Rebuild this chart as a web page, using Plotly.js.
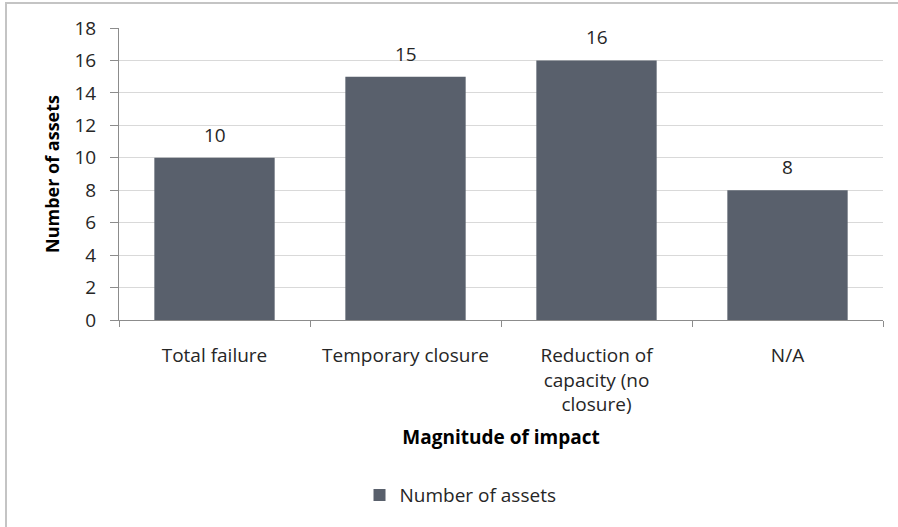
<!DOCTYPE html>
<html>
<head>
<meta charset="utf-8">
<script src="https://cdn.plot.ly/plotly-3.0.1.min.js"></script>
<style>
  html, body { margin: 0; padding: 0; background: #fff; }
  #chart { width: 898px; height: 527px; }
</style>
</head>
<body>
<div id="chart"></div>
<script>
const categories = ["Total failure", "Temporary closure", "Reduction of<br>capacity (no<br>closure)", "N/A"];
const values = [10, 15, 16, 8];
const seriesName = "Number of assets";
const yTicks = [0, 2, 4, 6, 8, 10, 12, 14, 16, 18];

const FONT = "Open Sans, Noto Sans, sans-serif";
const TXT = "#262626";

const trace = {
  type: "bar",
  x: categories,
  y: values,
  name: seriesName,
  marker: { color: "#59606c" },
  hoverinfo: "x+y"
};

const labelAnnotations = categories.map((c, i) => ({
  x: c,
  y: values[i],
  xref: "x",
  yref: "y",
  text: String(values[i]),
  showarrow: false,
  yanchor: "middle",
  yshift: 23,
  font: { family: FONT, size: 19, color: TXT }
}));

const layout = {
  width: 898,
  height: 527,
  margin: { l: 119, r: 15, t: 28, b: 207 },
  paper_bgcolor: "#ffffff",
  plot_bgcolor: "#ffffff",
  font: { family: FONT, color: TXT },
  bargap: 0.37,
  showlegend: true,
  legend: {
    orientation: "h",
    x: 0.447, xanchor: "center",
    y: -0.6, yanchor: "middle",
    font: { family: FONT, size: 19, color: TXT },
    itemwidth: 30
  },
  xaxis: {
    type: "category",
    showline: true,
    linecolor: "#8c8c8c",
    linewidth: 1,
    ticks: "outside",
    tickson: "boundaries",
    ticklen: 6,
    tickcolor: "#8c8c8c",
    ticklabelstandoff: 18,
    tickfont: { family: FONT, size: 19, color: TXT },
    showgrid: false,
    automargin: false,
    title: {
      text: "<b>Magnitude of impact</b>",
      font: { family: FONT, size: 19, color: "#000000" },
      standoff: 14
    }
  },
  yaxis: {
    range: [0, 18],
    tickvals: yTicks,
    ticktext: yTicks.map(String),
    showline: true,
    linecolor: "#8c8c8c",
    linewidth: 1,
    ticks: "outside",
    ticklen: 8,
    tickcolor: "#8c8c8c",
    ticklabelstandoff: 10,
    tickfont: { family: FONT, size: 19, color: TXT },
    showgrid: true,
    gridcolor: "#d9d9d9",
    gridwidth: 1,
    zeroline: false,
    automargin: false,
    title: {
      text: "<b>Number of assets</b>",
      font: { family: FONT, size: 18, color: "#000000" },
      standoff: 10
    }
  },
  annotations: labelAnnotations,
  shapes: [{
    type: "rect",
    xref: "paper", yref: "paper",
    x0: (6 - 119) / 764, x1: (900 - 119) / 764,
    y0: (320 - 535) / 292, y1: (320 - 3) / 292,
    line: { color: "#c4c4c4", width: 2 },
    fillcolor: "rgba(0,0,0,0)",
    layer: "below"
  }]
};

Plotly.newPlot("chart", [trace], layout, { displayModeBar: false, staticPlot: true });
</script>
</body>
</html>
